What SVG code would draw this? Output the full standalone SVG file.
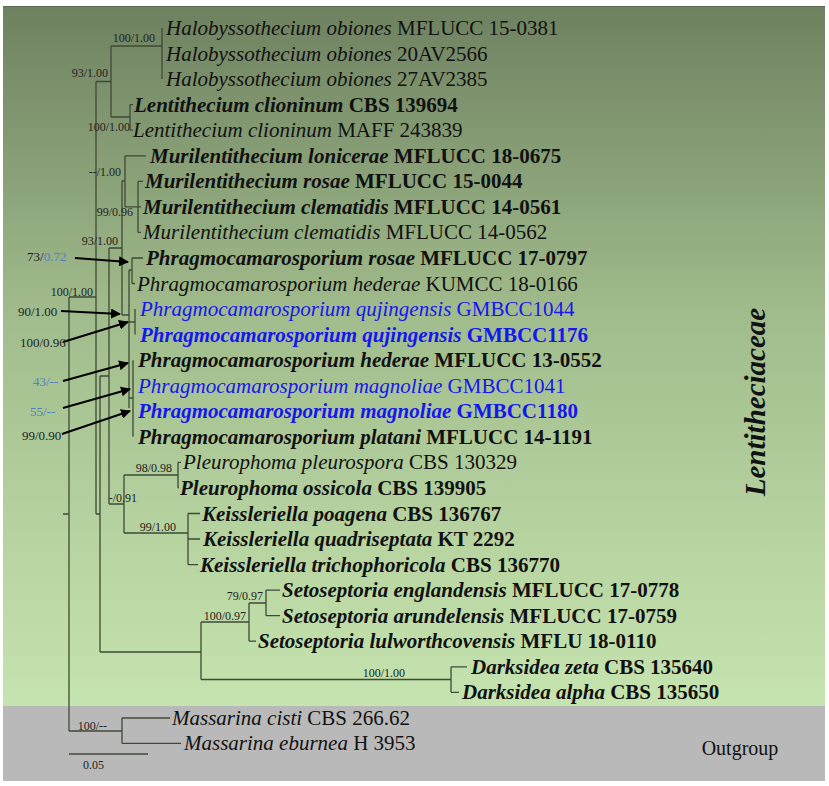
<svg xmlns="http://www.w3.org/2000/svg" width="829" height="786" viewBox="0 0 829 786">
<defs>
<linearGradient id="bg" x1="0" y1="0" x2="0" y2="1">
<stop offset="0" stop-color="#6e8160"/>
<stop offset="0.45" stop-color="#a2bd8d"/>
<stop offset="1" stop-color="#c6e4af"/>
</linearGradient>
<marker id="ah" viewBox="0 0 10 10" refX="9" refY="5" markerWidth="5" markerHeight="5" orient="auto" markerUnits="strokeWidth">
<path d="M0,0 L10,5 L0,10 z" fill="#000"/>
</marker>
<style>
.t{font-family:"Liberation Serif","Times New Roman",serif;font-size:21px;fill:#111}
.i{font-style:italic}
.b{font-weight:bold}
.blue{fill:#1616ee}
.s{font-family:"Liberation Serif","Times New Roman",serif;font-size:12px;fill:#222}
.a{font-family:"Liberation Serif","Times New Roman",serif;font-size:13px;fill:#222}
.lb{fill:#4f80c0}
.br{fill:none;stroke:#3e4a36;stroke-width:1.3}
.ar{fill:none;stroke:#000;stroke-width:2;marker-end:url(#ah)}
</style>
</defs>
<rect x="0" y="0" width="829" height="786" fill="#fff"/>
<rect x="3" y="6" width="822" height="700" fill="url(#bg)"/>
<line x1="3" y1="6.5" x2="825" y2="6.5" stroke="#5d6b53" stroke-width="1"/>
<rect x="3" y="706" width="822" height="75" fill="#b9b9b9"/>

<g id="connectors" class="br">
<!-- root -->
<path d="M63,514 H69 M69,297 V731 M69,297 H96 M69,731 H122"/>
<!-- ingroup -->
<path d="M96,81.5 V514 M96,81.5 H111 M96,514 H100"/>
<!-- Halo + Lenti -->
<path d="M111,46 V117 M111,46 H162 M162,28 V79 M111,117 H130 M130,104.6 V130.2 M130,104.6 H133 M130,130.2 H133"/>
<!-- node x100 -->
<path d="M100,376 V652 M100,376 H109 M100,652 H201"/>
<!-- node x109 -->
<path d="M109,248 V504 M109,248 H122 M109,504 H124"/>
<!-- N93 -->
<path d="M122,181 V315 M122,181 H125 M122,315 H129"/>
<!-- Murilentithecium -->
<path d="M125,155.8 V206.9 M125,155.8 H146 M125,206.9 H138 M138,181.3 V232.4 M138,181.3 H143 M138,206.9 H141 M138,232.4 H141"/>
<!-- Phragmocamarosporium -->
<path d="M129,270 V408 M129,270 H132 M132,258 V283.5 M132,258 H143 M132,283.5 H135 M129,322 H135 M135,309.1 V334.6 M129,398 H133 M133,360.2 V436.8"/>
<!-- Pleuro + Keiss -->
<path d="M124,475 V533 M124,475 H178 M178,462.4 V487.9 M178,462.4 H181 M178,487.9 H179 M124,533 H188 M188,513.5 V564.6 M188,513.5 H200 M188,539 H200 M188,564.6 H198"/>
<!-- Seto + Dark -->
<path d="M201,622 V679.5 M201,622 H249 M249,603 V641.2 M249,603 H266 M266,590.1 V615.7 M266,590.1 H280 M266,615.7 H280 M249,641.2 H256 M201,679.5 H451 M451,666.8 V692.3 M451,666.8 H467 M451,692.3 H459"/>
<!-- outgroup -->
<path d="M122,718 V743.4 M122,718 H170 M122,743.4 H181"/>
<!-- scale -->
<path d="M69,754 H148"/>
<!-- arrows -->
<path class="ar" d="M75,258 L128,262"/>
<path class="ar" d="M61,311 L120,314"/>
<path class="ar" d="M63,342 L128,322"/>
<path class="ar" d="M63,381 L128,363"/>
<path class="ar" d="M63,408 L130,389"/>
<path class="ar" d="M62,434 L130,411"/>
</g>

<g id="supports">
<text class="s" x="155" y="42" text-anchor="end">100/1.00</text>
<text class="s" x="108" y="77" text-anchor="end">93/1.00</text>
<text class="s" x="130" y="131" text-anchor="end">100/1.00</text>
<text class="s" x="121" y="176" text-anchor="end">--/1.00</text>
<text class="s" x="133" y="216" text-anchor="end">99/0.96</text>
<text class="s" x="118" y="245" text-anchor="end">93/1.00</text>
<text class="s" x="93" y="296" text-anchor="end">100/1.00</text>
<text class="s" x="172" y="472" text-anchor="end">98/0.98</text>
<text class="s" x="137" y="502" text-anchor="end">-/0.91</text>
<text class="s" x="176" y="531" text-anchor="end">99/1.00</text>
<text class="s" x="263" y="600" text-anchor="end">79/0.97</text>
<text class="s" x="246" y="620" text-anchor="end">100/0.97</text>
<text class="s" x="405" y="677" text-anchor="end">100/1.00</text>
<text class="s" x="107" y="730" text-anchor="end">100/--</text>
<text class="s" x="83" y="769">0.05</text>
<text class="a" x="27" y="261">73/<tspan class="lb">0.72</tspan></text>
<text class="a" x="18" y="316">90/1.00</text>
<text class="a" x="20" y="347">100/0.96</text>
<text class="a lb" x="33" y="386">43/--</text>
<text class="a lb" x="30" y="416">55/--</text>
<text class="a" x="22" y="440">99/0.90</text>
</g>

<g id="taxa">
<g id="t1"><text class="t" x="166" y="35"><tspan class="i">Halobyssothecium obiones</tspan> MFLUCC 15-0381</text></g>
<g id="t2"><text class="t" x="166" y="60.6"><tspan class="i">Halobyssothecium obiones</tspan> 20AV2566</text></g>
<g id="t3"><text class="t" x="166" y="86.1"><tspan class="i">Halobyssothecium obiones</tspan> 27AV2385</text></g>
<g id="t4"><text class="t b" x="134" y="111.7"><tspan class="i">Lentithecium clioninum</tspan> CBS 139694</text></g>
<g id="t5"><text class="t" x="133" y="137.2"><tspan class="i">Lentithecium clioninum</tspan> MAFF 243839</text></g>
<g id="t6"><text class="t b" x="150" y="162.8"><tspan class="i">Murilentithecium lonicerae</tspan> MFLUCC 18-0675</text></g>
<g id="t7"><text class="t b" x="145" y="188.3"><tspan class="i">Murilentithecium rosae</tspan> MFLUCC 15-0044</text></g>
<g id="t8"><text class="t b" x="143" y="213.9"><tspan class="i">Murilentithecium clematidis</tspan> MFLUCC 14-0561</text></g>
<g id="t9"><text class="t" x="143" y="239.4"><tspan class="i">Murilentithecium clematidis</tspan> MFLUCC 14-0562</text></g>
<g id="t10"><text class="t b" x="146" y="265"><tspan class="i">Phragmocamarosporium rosae</tspan> MFLUCC 17-0797</text></g>
<g id="t11"><text class="t" x="137" y="290.5"><tspan class="i">Phragmocamarosporium hederae</tspan> KUMCC 18-0166</text></g>
<g id="t12"><text class="t blue" x="140" y="316.1"><tspan class="i">Phragmocamarosporium qujingensis</tspan> GMBCC1044</text></g>
<g id="t13"><text class="t b blue" x="140" y="341.6"><tspan class="i">Phragmocamarosporium qujingensis</tspan> GMBCC1176</text></g>
<g id="t14"><text class="t b" x="138" y="367.2"><tspan class="i">Phragmocamarosporium hederae</tspan> MFLUCC 13-0552</text></g>
<g id="t15"><text class="t blue" x="138" y="392.7"><tspan class="i">Phragmocamarosporium magnoliae</tspan> GMBCC1041</text></g>
<g id="t16"><text class="t b blue" x="138" y="418.3"><tspan class="i">Phragmocamarosporium magnoliae</tspan> GMBCC1180</text></g>
<g id="t17"><text class="t b" x="138" y="443.8"><tspan class="i">Phragmocamarosporium platani</tspan> MFLUCC 14-1191</text></g>
<g id="t18"><text class="t" x="183" y="469.4"><tspan class="i">Pleurophoma pleurospora</tspan> CBS 130329</text></g>
<g id="t19"><text class="t b" x="180" y="494.9"><tspan class="i">Pleurophoma ossicola</tspan> CBS 139905</text></g>
<g id="t20"><text class="t b" x="202" y="520.5"><tspan class="i">Keissleriella poagena</tspan> CBS 136767</text></g>
<g id="t21"><text class="t b" x="203" y="546"><tspan class="i">Keissleriella quadriseptata</tspan> KT 2292</text></g>
<g id="t22"><text class="t b" x="200" y="571.6"><tspan class="i">Keissleriella trichophoricola</tspan> CBS 136770</text></g>
<g id="t23"><text class="t b" x="282" y="597.1"><tspan class="i">Setoseptoria englandensis</tspan> MFLUCC 17-0778</text></g>
<g id="t24"><text class="t b" x="282" y="622.7"><tspan class="i">Setoseptoria arundelensis</tspan> MFLUCC 17-0759</text></g>
<g id="t25"><text class="t b" x="258" y="648.2"><tspan class="i">Setoseptoria lulworthcovensis</tspan> MFLU 18-0110</text></g>
<g id="t26"><text class="t b" x="471" y="673.8"><tspan class="i">Darksidea zeta</tspan> CBS 135640</text></g>
<g id="t27"><text class="t b" x="462" y="699.3"><tspan class="i">Darksidea alpha</tspan> CBS 135650</text></g>
<g id="t28"><text class="t" x="172" y="724.9"><tspan class="i">Massarina cisti</tspan> CBS 266.62</text></g>
<g id="t29"><text class="t" x="184" y="750.4"><tspan class="i">Massarina eburnea</tspan> H 3953</text></g>
</g>

<g id="groups">
<text class="t b i" style="font-size:29px" transform="translate(765,402) rotate(-90)" text-anchor="middle">Lentitheciaceae</text>
<text class="t" x="740" y="755" text-anchor="middle" style="font-size:20px">Outgroup</text>
</g>
</svg>
